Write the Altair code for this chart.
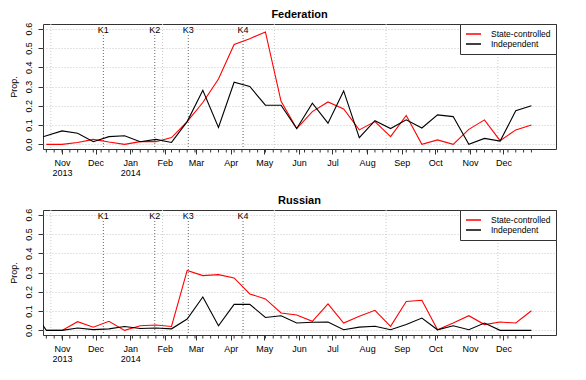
import altair as alt
import pandas as pd

# ---------------- data ----------------
dates = pd.date_range("2013-10-18", periods=32, freq="14D").strftime("%Y-%m-%d").tolist()
lead_date = "2013-10-04"   # earlier Independent point, clipped at the left edge

fed_state = [0.0, 0.0, 0.01, 0.026, 0.012, 0.0, 0.014, 0.014, 0.035, 0.118, 0.217, 0.339,
             0.518, 0.548, 0.583, 0.223, 0.082, 0.17, 0.22, 0.184, 0.075, 0.118, 0.04, 0.15,
             0.0, 0.023, 0.0, 0.078, 0.127, 0.019, 0.075, 0.1]
fed_indep = [0.045, 0.07, 0.058, 0.014, 0.04, 0.045, 0.014, 0.026, 0.01, 0.118, 0.28, 0.088,
             0.322, 0.30, 0.203, 0.203, 0.082, 0.214, 0.11, 0.277, 0.035, 0.123, 0.082, 0.127,
             0.085, 0.153, 0.144, 0.0, 0.031, 0.017, 0.174, 0.2]
fed_lead = 0.02

rus_state = [0.0, 0.0, 0.045, 0.016, 0.047, 0.0, 0.024, 0.028, 0.02, 0.311, 0.284, 0.289,
             0.272, 0.189, 0.163, 0.09, 0.08, 0.047, 0.137, 0.038, 0.073, 0.104, 0.021, 0.15,
             0.156, 0.003, 0.038, 0.076, 0.03, 0.043, 0.038, 0.102]
rus_indep = [0.0, 0.0, 0.012, 0.004, 0.008, 0.02, 0.01, 0.012, 0.008, 0.059, 0.173, 0.024,
             0.135, 0.135, 0.067, 0.076, 0.038, 0.042, 0.043, 0.003, 0.017, 0.021, 0.003, 0.03,
             0.064, 0.003, 0.024, 0.003, 0.038, 0.0, 0.0, 0.0]
rus_lead = 0.12

series_names = ["State-controlled", "Independent"]
series_colors = ["#ff0000", "#000000"]

event_labels = ["K1", "K2", "K3", "K4"]
event_dates = ["2013-12-08", "2014-01-23", "2014-02-22", "2014-04-12"]

month_ticks = pd.date_range("2013-11-01", "2014-12-01", freq="MS").strftime("%Y-%m-%d").tolist()
week_ticks = pd.date_range("2013-10-18", "2014-12-26", freq="7D").strftime("%Y-%m-%d").tolist()
grid_dates = ["2013-10-22", "2014-01-30", "2014-05-10", "2014-08-18", "2014-11-26"]
y_ticks = [0.0, 0.1, 0.2, 0.3, 0.4, 0.5, 0.6]
x_domain = ["2013-10-15", "2015-01-17"]
y_domain = [-0.024, 0.624]

W, H = 513, 125


def ms(s):
    return int(pd.Timestamp(s, tz="UTC").timestamp() * 1000)


label_expr = ("utcFormat(datum.value,'%m%Y')=='112013' ? ['Nov','2013'] : "
              "utcFormat(datum.value,'%m%Y')=='012014' ? ['Jan','2014'] : "
              "utcFormat(datum.value,'%b')")


def panel(title, state, indep, lead):
    rows = [{"date": d, "series": "State-controlled", "value": v} for d, v in zip(dates, state)]
    rows += [{"date": lead_date, "series": "Independent", "value": lead}]
    rows += [{"date": d, "series": "Independent", "value": v} for d, v in zip(dates, indep)]
    df = pd.DataFrame(rows)

    xscale = alt.Scale(type="utc", domain=[ms(x_domain[0]), ms(x_domain[1])], nice=False)
    xaxis = alt.Axis(values=[ms(d) for d in month_ticks], labelExpr=label_expr, tickSize=5,
                     labelPadding=4, labelFontSize=9, labelLineHeight=10, grid=False,
                     domain=False, title=None, tickColor="#333", labelColor="black",
                     minExtent=28, maxExtent=28, labelOverlap=False, labelFlush=False,
                     labelBound=False)
    yscale = alt.Scale(domain=y_domain, nice=False, zero=False)
    yaxis = alt.Axis(values=y_ticks, format=".1f", labelAngle=-90, labelAlign="center",
                     labelFontSize=9, tickSize=5, labelPadding=5, tickColor="#333",
                     domain=False, grid=True, gridDash=[1, 2], gridColor="#c8c8c8",
                     title="Prop.", titleFontSize=9, titleFontWeight="normal",
                     titlePadding=6, labelColor="black", titleColor="black")

    x_enc = alt.X("date:T", scale=xscale, axis=xaxis)

    color = alt.Color("series:N",
                      scale=alt.Scale(domain=series_names, range=series_colors),
                      legend=alt.Legend(title=None, orient="top-right", offset=0, padding=5,
                                        strokeColor="#333", fillColor="white",
                                        symbolType="stroke", symbolSize=225,
                                        symbolStrokeWidth=1.5, labelFontSize=8.5,
                                        labelOffset=9, rowPadding=0, clipHeight=10,
                                        labelColor="black"))

    grid_v = alt.Chart(pd.DataFrame({"date": grid_dates})).mark_rule(
        color="#c8c8c8", strokeDash=[1, 2], strokeWidth=1
    ).encode(x=x_enc)

    ev_df = pd.DataFrame({"date": event_dates, "label": event_labels})
    ev_rule = alt.Chart(ev_df).mark_rule(color="#666", strokeDash=[1, 2], strokeWidth=1).encode(
        x=x_enc, y=alt.value(11), y2=alt.value(H))
    ev_text = alt.Chart(ev_df).mark_text(fontSize=9, baseline="middle", color="black").encode(
        x=x_enc, y=alt.value(6), text="label:N")

    minor = alt.Chart(pd.DataFrame({"date": week_ticks})).mark_rule(
        color="#333", strokeWidth=1).encode(
        x=x_enc, y=alt.value(H), y2=alt.value(H + 3.5))

    red = alt.Chart(df[df.series == "State-controlled"]).mark_line(
        clip=True, strokeWidth=1.1).encode(
        x=x_enc,
        y=alt.Y("value:Q", scale=yscale, axis=yaxis),
        color=color)
    black = alt.Chart(df[df.series == "Independent"]).mark_line(
        clip=True, strokeWidth=1.1).encode(
        x=x_enc,
        y=alt.Y("value:Q", scale=yscale, axis=yaxis),
        color=color)

    return alt.layer(grid_v, ev_rule, ev_text, minor, red, black).properties(
        width=W, height=H,
        title=alt.TitleParams(title, fontSize=11, fontWeight="bold", offset=2,
                              anchor="middle", color="black"))


chart = alt.vconcat(
    panel("Federation", fed_state, fed_indep, fed_lead),
    panel("Russian", rus_state, rus_indep, rus_lead),
    spacing=16,
).resolve_scale(color="independent").configure(
    padding=0, font="Liberation Sans"
).configure_view(stroke="#333", strokeWidth=1).configure_axis(
    labelFont="Liberation Sans", titleFont="Liberation Sans"
)

chart.save("out.html", embed_options={"renderer": "svg", "actions": False})
